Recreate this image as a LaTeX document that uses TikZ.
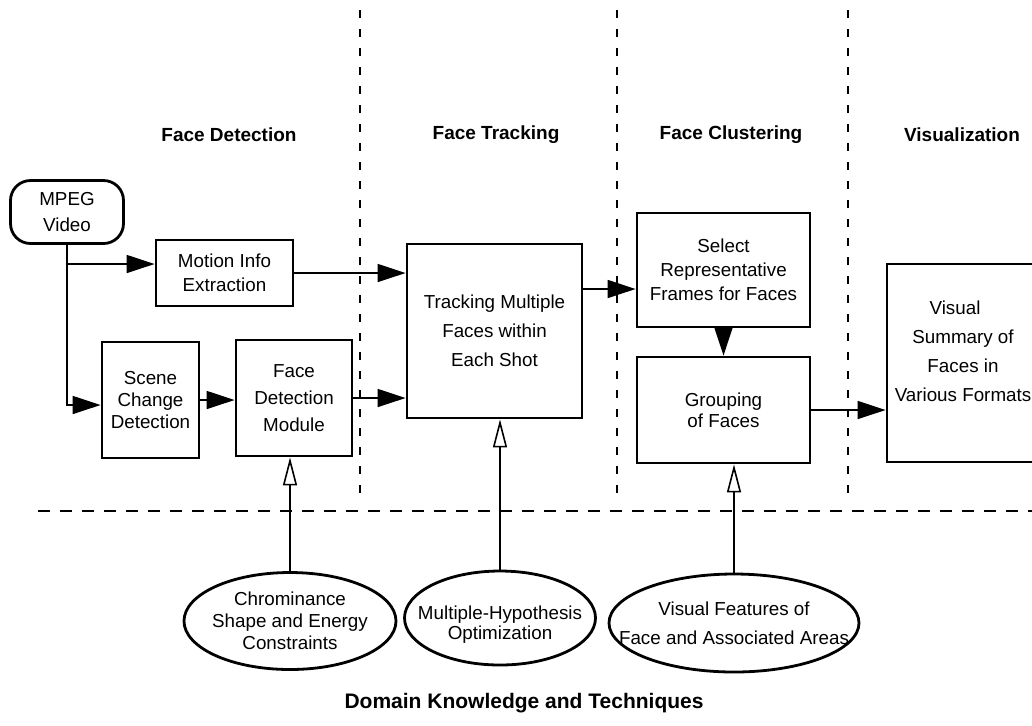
\documentclass[tikz,border=0pt]{standalone}
\usepackage{fontspec}
\setmainfont{Liberation Sans}
\usetikzlibrary{shapes.geometric,arrows.meta,positioning}
\tikzset
{
    blocknode/.style = {draw=black, line width=1.4pt, align=center, inner sep=2pt, font=\fontsize{9.4}{12}\selectfont},
    widespaced/.style = {font=\fontsize{9.4}{14.5}\selectfont},
    knownode/.style  = {ellipse, draw=black, line width=1.4pt, inner sep=0pt},
    knowtext/.style  = {align=center, inner sep=0pt, font=\fontsize{9.4}{11}\selectfont},
    phaselabel/.style = {font=\fontsize{9.5}{12}\selectfont\bfseries},
    flow/.style = {-{Triangle[length=14pt,width=9pt]}, line width=0.8pt},
    feed/.style = {-{Triangle[open,length=14pt,width=7pt]}, line width=0.8pt},
    divider/.style = {dash pattern=on 4pt off 5.5pt, line width=0.9pt}
}

\begin{document}
\begin{tikzpicture}[x=0.5pt, y=-0.5pt]
    \useasboundingbox (0,0) rectangle (1032,725);

    % stage dividers
    \foreach \xpos in {360,617,848}
        \draw[divider] (\xpos,10) -- (\xpos,498);
    \draw[divider, dash pattern=on 6pt off 5pt] (38,511) -- (1032,511);

    % stage titles
    \node [phaselabel] (titledet)   at (229,135) {Face Detection};
    \node [phaselabel] (titletrack) at (496,135) {Face Tracking};
    \node [phaselabel] (titleclust) at (731,135) {Face Clustering};
    \node [phaselabel] (titlevis)   at (962,135) {Visualization};
    \node [phaselabel, font=\fontsize{10.5}{12}\selectfont\bfseries] (titledomain) at (524,703) {Domain Knowledge and Techniques};

    % blocks
    \node [blocknode, rounded corners=10pt, minimum width=56.5pt, minimum height=31.5pt, font=\fontsize{9.4}{13}\selectfont] (video) at (67,212) {MPEG\\Video};
    \node [blocknode, minimum width=68.5pt, minimum height=33pt] (motion) at (224.5,273) {Motion Info\\Extraction};
    \node [blocknode, minimum width=48.5pt, minimum height=58pt, font=\fontsize{9.4}{11}\selectfont] (scene) at (150.5,400) {Scene\\Change\\Detection};
    \node [blocknode, minimum width=58pt, minimum height=58pt, font=\fontsize{9.4}{13.5}\selectfont] (facedet) at (294,398) {Face\\Detection\\Module};
    \node [blocknode, widespaced, minimum width=87.5pt, minimum height=87pt] (tracking) at (494.5,331) {Tracking Multiple\\Faces within\\Each Shot};
    \node [blocknode, minimum width=86.5pt, minimum height=57pt] (select) at (723.5,270) {Select\\Representative\\Frames for Faces};
    \node [blocknode, minimum width=86.5pt, minimum height=53pt, font=\fontsize{9.4}{10.5}\selectfont] (grouping) at (723.5,410) {Grouping\\of Faces};
    \node [blocknode, minimum width=76pt, minimum height=99pt,
           label={[knowtext, widespaced, yshift=6pt]center:Visual\hspace*{8pt}\\Summary of\\Faces in\\Various Formats}] (summary) at (963,363) {};

    % knowledge sources
    \node [knownode, minimum width=106pt, minimum height=48.5pt,
           label={[knowtext]center:Chrominance\\Shape and Energy\\Constraints}] (chroma) at (290,621) {};
    \node [knownode, minimum width=95.5pt, minimum height=47pt,
           label={[knowtext, font=\fontsize{9.4}{10}\selectfont, yshift=-3.5pt]center:Multiple-Hypothesis\\Optimization}] (hypo) at (500,618) {};
    \node [knownode, minimum width=125pt, minimum height=49pt,
           label={[knowtext, font=\fontsize{9.4}{14.5}\selectfont]center:Visual Features of\\Face and Associated Areas}] (features) at (734,623) {};

    % data flow
    \coordinate (branch) at (video.south |- 0,264);
    \draw[flow] (video.south) |- ([yshift=-2.5pt]scene.west);
    \draw[flow] (branch) -- (branch -| motion.west);
    \draw[flow] (scene.east) -- (scene.east -| facedet.west);
    \draw[flow] (motion.east) -- (motion.east -| tracking.west);
    \draw[flow] (facedet.east) -- (facedet.east -| tracking.west);
    \draw[flow] ([yshift=21pt]tracking.east) -- ([yshift=21pt]tracking.east -| select.west);
    \draw[flow] (select.south) -- (grouping.north);
    \draw[flow] (grouping.east) -- (grouping.east -| summary.west);

    % knowledge feeds
    \draw[feed] (chroma.north) -- (chroma.north |- facedet.south);
    \draw[feed] (hypo.north) -- (hypo.north |- tracking.south);
    \draw[feed] (features.north) -- (features.north |- grouping.south);
\end{tikzpicture}
\end{document}
